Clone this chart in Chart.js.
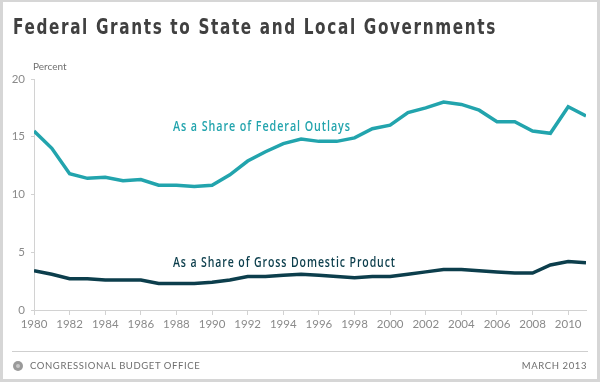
<!DOCTYPE html>
<html><head><meta charset="utf-8">
<script src="https://cdn.jsdelivr.net/npm/chart.js@4/dist/chart.umd.min.js"></script>
<style>
html,body{margin:0;padding:0;background:#fff;}
#wrap{position:relative;width:600px;height:382px;overflow:hidden;background:#fff;}
#c{position:absolute;left:0;top:0;}
#frame{position:absolute;left:0;top:0;width:600px;height:382px;box-sizing:border-box;border:solid #d6d6d6;border-width:2px 3px 3px 3px;pointer-events:none;}
#title{position:absolute;left:13px;top:15px;font-family:"DejaVu Sans";font-weight:bold;font-size:20.5px;color:#404040;white-space:nowrap;line-height:24px;letter-spacing:2.2px;transform-origin:0 50%;}
#rule{position:absolute;left:12px;top:351px;width:576px;height:1px;background:#cfcfcf;}
.foot{position:absolute;top:360px;font-family:"Lato","Open Sans";font-size:9.5px;color:#6e6e6e;white-space:nowrap;line-height:12px;letter-spacing:0.6px;}
#cbo{left:30px;}
#date{right:13px;}
#logo{position:absolute;left:13px;top:361px;width:10px;height:10px;border-radius:50%;background:#9a9a9a;}
#logo::after{content:"";position:absolute;left:3px;top:3px;width:4px;height:4px;border-radius:50%;background:#c8c8c8;}
</style></head><body>
<div id="wrap">
<canvas id="c" width="600" height="382"></canvas>
<div id="title">Federal Grants to State and Local Governments</div>
<div id="rule"></div>
<div id="logo"></div>
<div class="foot" id="cbo">CONGRESSIONAL BUDGET OFFICE</div>
<div class="foot" id="date">MARCH 2013</div>
<div id="frame"></div>
</div>
<script>
const years = [1980,1981,1982,1983,1984,1985,1986,1987,1988,1989,1990,1991,1992,1993,1994,1995,1996,1997,1998,1999,2000,2001,2002,2003,2004,2005,2006,2007,2008,2009,2010,2011];
const shareOfOutlays = [15.5,14.0,11.8,11.4,11.5,11.2,11.3,10.8,10.8,10.7,10.8,11.7,12.9,13.7,14.4,14.8,14.6,14.6,14.9,15.7,16.0,17.1,17.5,18.0,17.8,17.3,16.3,16.3,15.5,15.3,17.6,16.8];
const shareOfGDP = [3.4,3.1,2.7,2.7,2.6,2.6,2.6,2.3,2.3,2.3,2.4,2.6,2.9,2.9,3.0,3.1,3.0,2.9,2.8,2.9,2.9,3.1,3.3,3.5,3.5,3.4,3.3,3.2,3.2,3.9,4.2,4.1];
const yTicks = [0,5,10,15,20];
const labelOutlays = "As a Share of Federal Outlays";
const labelGDP = "As a Share of Gross Domestic Product";
const yAxisTitle = "Percent";

// condense title to the reference width
(function(){
  const t = document.getElementById('title');
  const w = t.getBoundingClientRect().width;
  t.style.transform = 'scaleX(' + (484 / w) + ')';
})();

const tealColor = '#22a4ad';
const darkColor = '#0c3e4c';

function condensedText(ctx, text, x, y, targetW) {
  const w = ctx.measureText(text).width;
  ctx.save();
  ctx.translate(x, y);
  ctx.scale(targetW / w, 1);
  ctx.fillText(text, 0, 0);
  ctx.restore();
}

const annot = {
  id: 'annot',
  afterDatasetsDraw(chart) {
    const ctx = chart.ctx;
    const xs = chart.scales.x, ys = chart.scales.y;
    ctx.save();
    ctx.textBaseline = 'middle';
    ctx.textAlign = 'left';
    ctx.font = '600 14px "Open Sans", "DejaVu Sans"';
    ctx.letterSpacing = '1.2px';
    ctx.fillStyle = tealColor;
    condensedText(ctx, labelOutlays, xs.getPixelForValue(1987.8), ys.getPixelForValue(15.8), 178);
    ctx.fillStyle = darkColor;
    condensedText(ctx, labelGDP, xs.getPixelForValue(1987.8), ys.getPixelForValue(4.1), 223);
    ctx.letterSpacing = '0px';
    ctx.font = '10px "Lato", "Open Sans"';
    ctx.fillStyle = '#707070';
    ctx.fillText(yAxisTitle, xs.left - 1, ys.top - 12);
    ctx.restore();
  }
};

new Chart(document.getElementById('c'), {
  type: 'line',
  data: {
    datasets: [
      { data: years.map((y,i)=>({x:y, y:shareOfOutlays[i]})), borderColor: tealColor, borderWidth: 3.5, pointRadius: 0, tension: 0 },
      { data: years.map((y,i)=>({x:y, y:shareOfGDP[i]})), borderColor: darkColor, borderWidth: 3.5, pointRadius: 0, tension: 0 }
    ]
  },
  options: {
    responsive: false,
    animation: false,
    devicePixelRatio: 1,
    layout: { padding: { top: 79, right: 14, left: 0, bottom: 0 } },
    plugins: { legend: { display: false }, tooltip: { enabled: false } },
    scales: {
      x: {
        type: 'linear', min: 1980, max: 2011,
        afterFit(s) { s.height = 72; },
        border: { color: '#d2d2d2', width: 1 },
        grid: { drawOnChartArea: false, drawTicks: true, tickLength: 5, color: '#d2d2d2' },
        ticks: { stepSize: 2, includeBounds: false, padding: 2, color: '#8a8a8a', font: { family: 'Lato, "Open Sans"', size: 11.5 }, callback: v => String(v), maxRotation: 0, autoSkip: false }
      },
      y: {
        min: 0, max: 20,
        afterFit(s) { s.width = 34; },
        afterBuildTicks(s) { s.ticks = yTicks.map(v => ({ value: v })); },
        border: { color: '#d2d2d2', width: 1 },
        grid: { drawOnChartArea: false, drawTicks: true, tickLength: 3, color: '#d2d2d2' },
        ticks: { padding: 6, color: '#8a8a8a', font: { family: 'Lato, "Open Sans"', size: 11.5 } }
      }
    }
  },
  plugins: [annot]
});
</script>
</body></html>
